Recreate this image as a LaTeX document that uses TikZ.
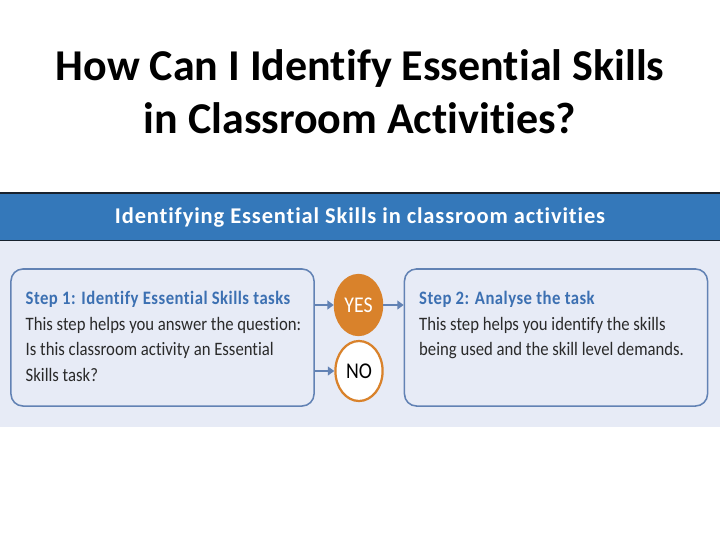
\documentclass[tikz,border=0pt]{standalone}
\usepackage{fontspec}
\setmainfont[Ligatures=CommonOff]{Carlito}
\newfontfamily\narrowfont[FakeStretch=0.88, Ligatures=CommonOff]{Carlito}
\usetikzlibrary{shapes.geometric,arrows.meta,positioning}
\definecolor{bannerblue}{HTML}{3478BA}
\definecolor{bannerdark}{HTML}{18222E}
\definecolor{panelblue}{HTML}{E7EBF6}
\definecolor{boxline}{HTML}{6282B4}
\definecolor{steptitle}{HTML}{3C70B2}
\definecolor{yesorange}{HTML}{D9822B}
\definecolor{bodytext}{HTML}{2A2A2A}
\begin{document}
\begin{tikzpicture}[x=0.025cm, y=-0.025cm,
        stepbox/.style = {draw = boxline, line width = 1.1pt, rounded corners = 0.3cm,
            minimum width = 7.575cm, minimum height = 3.425cm, inner sep = 0pt},
        steptext/.style = {anchor = north west, align = left, inner sep = 0pt,
            font = \narrowfont\fontsize{13.5}{18.4}\selectfont, text = bodytext},
        answer/.style = {ellipse, line width = 1.6pt, draw = yesorange,
            minimum width = 1.18cm, minimum height = 1.5cm, inner sep = 0pt,
            font = \narrowfont\fontsize{16}{17}\selectfont},
        link/.style = {-{Triangle[length = 0.16cm, width = 0.22cm]}, boxline, line width = 1.1pt}]
    \useasboundingbox [fill = white] (0,0) rectangle (720,540);

    % Draw the title:
    \node [align = center, font = \bfseries\fontsize{31.3}{37.8}\selectfont] (title) at (360,92)
        {How Can I Identify Essential Skills\\in Classroom Activities?};

    % Draw the banner and the panel below it:
    \fill [panelblue] (0,241) rectangle (720,427);
    \fill [bannerblue] (0,193) rectangle (720,240);
    \draw [bannerdark, line width = 1.2pt] (0,193) -- (720,193);
    \draw [bannerdark, line width = 1.2pt] (0,240.5) -- (720,240.5);
    \node [text = white, font = \bfseries\fontsize{16}{18}\selectfont\addfontfeature{LetterSpace=3.8}] (banner) at (360,218)
        {Identifying Essential Skills in classroom activities};

    % Draw the two steps:
    \node [stepbox] (step1) at (162.5,337.5) {};
    \node [stepbox] (step2) at (556,337.5) {};
    \node [steptext] (step1text) at ([xshift = 0.38cm, yshift = -0.56cm] step1.north west)
        {{\color{steptitle}\bfseries\addfontfeature{LetterSpace=2.5}Step 1: Identify Essential Skills tasks}\\
         This step helps you answer the question:\\
         Is this classroom activity an Essential\\
         Skills task?};
    \node [steptext] (step2text) at ([xshift = 0.38cm, yshift = -0.56cm] step2.north west)
        {{\color{steptitle}\bfseries\addfontfeature{LetterSpace=2.5}Step 2: Analyse the task}\\
         This step helps you identify the skills\\
         being used and the skill level demands.};

    % Draw the answers:
    \node [answer, fill = yesorange, text = white] (yes) at (358.5,305) {YES};
    \node [answer, fill = white, text = black] (no) at (359,371) {NO};

    \draw [link] (step1.east |- yes.west) -- (yes.west);
    \draw [link] (step1.east |- no.west) -- (no.west);
    \draw [link] (yes.east) -- (step2.west |- yes.east);
\end{tikzpicture}
\end{document}
